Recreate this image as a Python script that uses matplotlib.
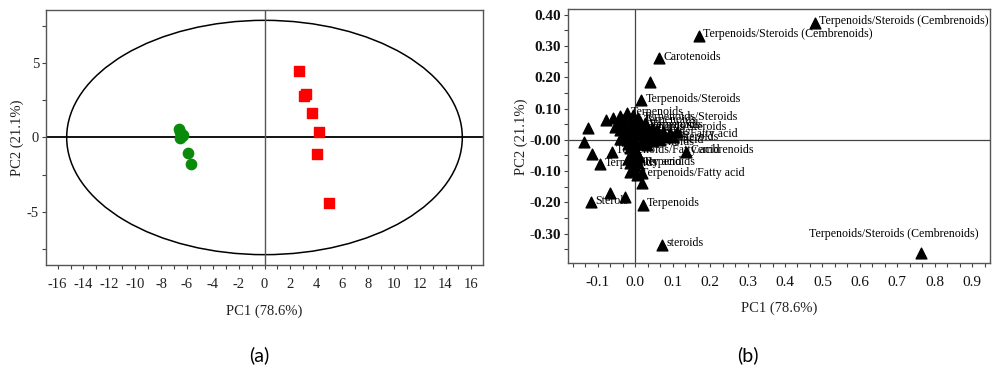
import numpy as np
import matplotlib.pyplot as plt
from matplotlib.patches import Ellipse
from matplotlib.ticker import MultipleLocator

plt.rcParams['font.family'] = ['Liberation Serif', 'DejaVu Serif']
plt.rcParams['axes.unicode_minus'] = False

# (a) scores
green_x = [-6.64, -6.50, -6.30, -6.56, -6.40, -5.92, -5.66]
green_y = [0.54, 0.35, 0.20, -0.02, 0.10, -1.03, -1.82]
red_x = [2.70, 3.22, 3.06, 3.71, 4.25, 4.09, 5.00]
red_y = [4.48, 2.90, 2.79, 1.67, 0.36, -1.10, -4.41]
ell_a, ell_b = 15.3, 7.9

# (b) loadings
load_x = [0.480, 0.169, 0.064, 0.039, 0.016, -0.126, -0.137, -0.117, -0.094,
          -0.063, 0.136, -0.068, -0.028, -0.118, 0.020, 0.071, 0.764, 0.019,
          -0.078, -0.059, -0.041, -0.023, -0.005, 0.008, 0.021,
          -0.054, -0.032, -0.014, 0.004, 0.017, 0.030, 0.044, 0.057, 0.075, 0.093, 0.111,
          -0.023, -0.005, 0.017, 0.030, -0.041, -0.023, -0.005, 0.017, 0.030,
          -0.014, 0.004, -0.005, 0.008, -0.014, -0.005, -0.014, 0.004, 0.017,
          -0.045, -0.030, -0.010, 0.000, 0.012, 0.025, -0.040, -0.020, 0.000, 0.010,
          0.045, 0.060, 0.080, 0.100, -0.030, -0.010, 0.005, -0.020, 0.000, -0.010,
          0.010, 0.000, -0.020, 0.045, 0.065, 0.005]
load_y = [0.375, 0.333, 0.260, 0.186, 0.127, 0.037, -0.006, -0.046, -0.078,
          -0.038, -0.038, -0.171, -0.184, -0.200, -0.208, -0.336, -0.363, -0.139,
          0.063, 0.069, 0.077, 0.085, 0.079, 0.069, 0.042,
          0.042, 0.047, 0.015, 0.047, 0.037, 0.042, 0.037, 0.031, 0.026, 0.021, 0.024,
          0.026, 0.021, 0.015, 0.010, 0.003, -0.001, -0.006, -0.011, -0.017,
          -0.027, -0.043, -0.065, -0.075, -0.075, -0.091, -0.102, -0.112, -0.107,
          0.058, 0.065, 0.060, 0.055, 0.058, 0.055, 0.030, 0.035, 0.030, 0.025,
          0.020, 0.012, 0.008, 0.010, 0.015, 0.005, -0.015, -0.015, -0.030, -0.050,
          -0.055, -0.085, -0.060, -0.005, 0.000, -0.012]
load_lab = ['Terpenoids/Steroids (Cembrenoids)', 'Terpenoids/Steroids (Cembrenoids)',
            'Carotenoids', '', 'Terpenoids/Steroids', '', '', '', 'Terpenoids',
            'Terpenoids/Fatty acid', 'Cembrenoids', '', '', 'Sterols', 'Terpenoids',
            'steroids', '', '',
            '', '', '', 'Terpenoids', '', 'Terpenoids/Steroids', 'Terpenoids',
            '', '', 'Terpenoids/Fatty acid', '', '', 'Terpenoids', '', '', '', '', '',
            '', 'Terpenoids', '', '', 'Terpenoids/Steroids', '', '', '', '',
            '', '', '', 'Terpenoids', 'Fatty acid', '', '', 'Terpenoids/Fatty acid', '',
            '', '', '', '', 'Terpenoids', '', '', 'Terpenoids/Steroids', '', '',
            '', '', '', '', '', 'Terpenoids', '', '', '', '',
            '', '', '', 'Fatty acid', '', 'Terpenoids']
# label of the far outlier sits apart from its marker
far_lab = 'Terpenoids/Steroids (Cembrenoids)'
far_lab_x, far_lab_y = 0.463, -0.302

spine_col = '#555555'

fig = plt.figure(figsize=(10, 3.83), dpi=100)

# ---------------- (a)
ax1 = fig.add_axes([0.046, 0.308, 0.437, 0.666])
ax1.add_patch(Ellipse((0, 0), 2 * ell_a, 2 * ell_b, fill=False, ec='black', lw=1.1))
ax1.axhline(0, color='black', lw=1.3)
ax1.axvline(0, color='#555555', lw=1)
ax1.scatter(green_x, green_y, s=55, c='#0a8a0a', marker='o', zorder=3)
ax1.scatter(red_x, red_y, s=55, c='#ff0000', marker='s', zorder=3)
ax1.set_xlim(-16.9, 16.9)
ax1.set_ylim(-8.6, 8.6)
ax1.xaxis.set_major_locator(MultipleLocator(2))
ax1.xaxis.set_minor_locator(MultipleLocator(1))
ax1.yaxis.set_major_locator(MultipleLocator(5))
ax1.yaxis.set_minor_locator(MultipleLocator(2.5))
ax1.set_xlabel('PC1 (78.6%)', fontsize=10.5, color='#222222', labelpad=10)
ax1.set_ylabel('PC2 (21.1%)', fontsize=10.5, color='#222222', labelpad=2)

# ---------------- (b)
ax2 = fig.add_axes([0.568, 0.3125, 0.422, 0.663])
ax2.axhline(0, color='#444444', lw=0.9)
ax2.axvline(0, color='#444444', lw=0.9)
ax2.scatter(load_x, load_y, s=60, c='black', marker='^', zorder=3)
for x, y, t in zip(load_x, load_y, load_lab):
    if t:
        ax2.annotate(t, (x, y), xytext=(3, 1), textcoords='offset points',
                     ha='left', va='center', fontsize=8.6, zorder=4)
ax2.text(far_lab_x, far_lab_y, far_lab, ha='left', va='center', fontsize=8.6)
ax2.set_xlim(-0.18, 0.948)
ax2.set_ylim(-0.395, 0.417)
ax2.set_xticks(np.arange(-0.1, 0.95, 0.1))
ax2.set_xticklabels(['-0.1', '0.0', '0.1', '0.2', '0.3', '0.4', '0.5', '0.6', '0.7', '0.8', '0.9'])
ax2.set_yticks([-0.3, -0.2, -0.1, 0.0, 0.1, 0.2, 0.3, 0.4])
ax2.set_yticklabels(['-0.30', '-0.20', '-0.10', '-0.00', '0.10', '0.20', '0.30', '0.40'])
ax2.xaxis.set_minor_locator(MultipleLocator(0.1 / 3))
ax2.yaxis.set_minor_locator(MultipleLocator(0.05))
ax2.set_xlabel('PC1 (78.6%)', fontsize=10.5, color='#222222', labelpad=9)
ax2.set_ylabel('PC2 (21.1%)', fontsize=10.5, color='#222222', labelpad=1)

for ax in (ax1, ax2):
    for sp in ax.spines.values():
        sp.set_color(spine_col)
        sp.set_linewidth(1)
    ax.tick_params(which='both', direction='out', color='#444444', width=0.8)
    ax.tick_params(which='major', length=3, pad=6)
    ax.tick_params(which='minor', length=3)
    ax.tick_params(axis='y', which='major', pad=2)

ax1.tick_params(labelsize=10.5, labelcolor='#222222')
ax2.tick_params(labelsize=11, labelcolor='#111111')
for lab in ax2.get_yticklabels():
    lab.set_fontweight('bold')

fig.text(0.259, 0.073, '(a)', fontsize=14, family=['Lato', 'DejaVu Sans'], ha='center', va='center')
fig.text(0.748, 0.073, '(b)', fontsize=14, family=['Lato', 'DejaVu Sans'], ha='center', va='center')

fig.savefig('out.png', dpi=100)
